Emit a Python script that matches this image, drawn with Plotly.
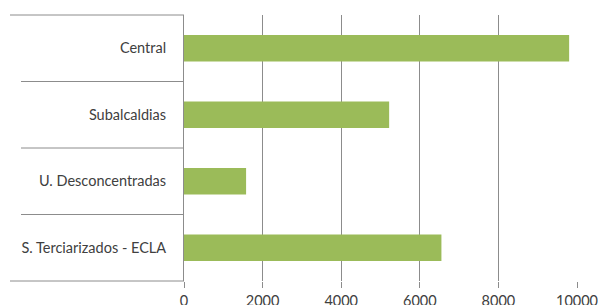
import plotly.graph_objects as go

categories = ["Central", "Subalcaldias", "U. Desconcentradas", "S. Terciarizados - ECLA"]
values = [9800, 5220, 1580, 6550]
tick_vals = [0, 2000, 4000, 6000, 8000, 10000]
tick_text = ["0", "2000", "4000", "6000", "8000", "10000"]

line_col = "#8c8c8c"
text_col = "#404040"

fig = go.Figure(go.Bar(
    x=values, y=categories, orientation="h",
    marker=dict(color="#9BBB59", line=dict(width=0)),
    width=0.4, hoverinfo="skip",
))

L, R, T, B = 184, 21, 15, 24
W, H = 598, 305
pw = W - L - R

shapes = []
for i, yb in enumerate([0, 0.25, 0.5, 0.75, 1.0]):
    x0px = 10 if yb in (0, 1.0) else 21
    shapes.append(dict(type="line", xref="paper", yref="paper",
                       x0=(x0px - L) / pw, x1=0, y0=yb, y1=yb,
                       line=dict(color=line_col, width=1)))

fig.update_layout(
    width=W, height=H,
    margin=dict(l=L, r=R, t=T, b=B),
    paper_bgcolor="white", plot_bgcolor="white",
    showlegend=False,
    font=dict(family="Lato, Open Sans, sans-serif", size=14.5, color=text_col),
    shapes=shapes,
    xaxis=dict(range=[0, 10000], tickvals=tick_vals, ticktext=tick_text,
               showgrid=True, gridcolor=line_col, gridwidth=1, zeroline=False,
               ticks="outside", ticklen=6, tickcolor=line_col,
               showline=False, automargin=False, ticklabelstandoff=1,
               ticklabeloverflow="allow",
               tickfont=dict(size=14.5, color=text_col)),
    yaxis=dict(autorange="reversed", showline=True, linecolor=line_col,
               linewidth=1, ticks="", showgrid=False, automargin=False,
               ticklabelstandoff=14, tickfont=dict(size=14.5, color=text_col)),
    bargap=0.6,
)

fig.write_html("out.html", config={"displayModeBar": False, "staticPlot": True},
               post_script="document.body.style.margin='0';document.body.style.overflow='hidden';")
